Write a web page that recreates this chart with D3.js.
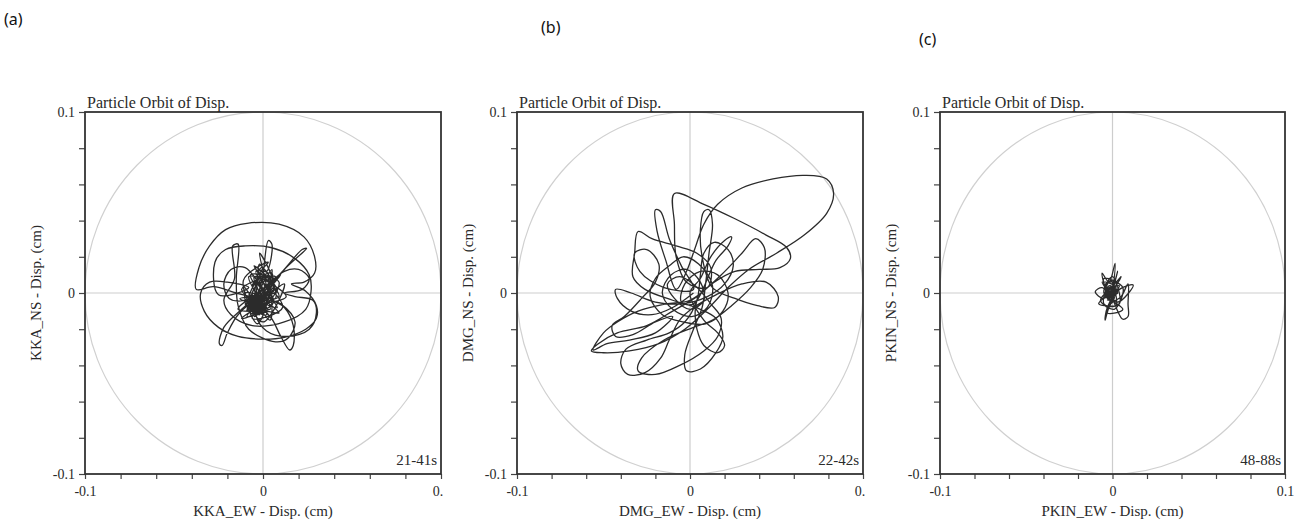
<!DOCTYPE html>
<html>
<head>
<meta charset="utf-8">
<script src="https://cdn.jsdelivr.net/npm/d3@7"></script>
<style>
  body { margin: 0; background: #fff; }
  svg { display: block; }
  .serif { font-family: "Liberation Serif", "Times New Roman", serif; fill: #2a2a2a; }
  .tag { font-family: "Noto Sans", "Open Sans", sans-serif; fill: #111; }
</style>
</head>
<body>
<svg id="chart" width="1306" height="526"></svg>
<script>
// Particle-motion orbits (EW vs NS displacement, cm) for three stations.

const axisDomain = [-0.1, 0.1];
const tickValues = [-0.1, -0.08, -0.06, -0.04, -0.02, 0, 0.02, 0.04, 0.06, 0.08, 0.1];
const labelledTicks = ["-0.1", "0", "0.1"];

const stations = ["KKA", "DMG", "PKIN"];
const timeWindows = ["21-41s", "22-42s", "48-88s"];
const panelTags = ["(a)", "(b)", "(c)"];
const chartTitle = "Particle Orbit of Disp.";

// KKA orbit, [EW, NS] in cm
const kkaOrbit = [
  [0.000,-0.005],[-0.004,-0.003],[-0.015,0.000],[-0.028,0.0035],
  [-0.0375,0.002],[-0.036,0.014],[-0.030,0.026],[-0.021,0.035],[-0.009,0.0385],[0.009,0.038],
  [0.023,0.031],[0.029,0.020],[0.029,0.011],[0.023,0.006],[0.016,0.005],[0.024,0.001],
  [0.030,-0.007],[0.030,-0.014],[0.024,-0.020],[0.012,-0.0245],[0.000,-0.0255],[-0.014,-0.024],
  [-0.025,-0.019],[-0.033,-0.010],[-0.035,0.000],[-0.030,0.006],[-0.020,0.006],[-0.008,0.003],
  [-0.025,-0.001],[-0.027,0.017],[-0.021,0.024],[-0.010,0.026],[0.005,0.025],[0.018,0.019],
  [0.026,0.010],[0.027,0.001],[0.024,-0.009],[0.012,-0.016],[-0.006,-0.018],[-0.018,-0.012],[-0.022,-0.004],
  [-0.016,0.008],[-0.017,0.026],[-0.014,0.027],[-0.015,0.008],[-0.014,-0.007],[-0.008,-0.020],
  [0.007,-0.027],[0.014,-0.025],[0.018,-0.016],[0.010,-0.006],[0.000,-0.002],
  [0.012,0.013],[0.0245,0.0247],[0.022,0.024],[0.010,0.011],[-0.002,0.000],
  [-0.012,-0.009],[-0.022,-0.019],[-0.0245,-0.028],[-0.023,-0.029],[-0.020,-0.022],[-0.014,-0.012],[-0.006,-0.006],
  [0.004,-0.013],[0.010,-0.024],[0.015,-0.0315],[0.017,-0.029],[0.017,-0.018],[0.012,-0.008],[0.004,-0.003],
  [-0.010,0.014],[-0.018,0.013],[-0.022,0.005],[-0.019,-0.003],[-0.010,-0.004],[0.002,0.004],
  [0.012,0.012],[0.020,0.013],[0.026,0.008],[0.022,0.002],[0.012,0.000],
  [0.018,-0.002],[0.028,-0.004],[0.030,-0.011],[0.026,-0.020],[0.014,-0.024],[0.002,-0.021],[-0.004,-0.012],
  [0.000,0.010],[0.003,0.029],[0.005,0.027],[0.002,0.012],[-0.002,0.016],[-0.003,0.008],
  [-0.003,-0.003],[0.006,0.004],[-0.008,0.009],[0.002,-0.012],[-0.010,-0.006],[0.009,-0.002],[-0.004,0.012],
  [0.004,-0.009],[-0.012,0.002],[0.007,0.009],[-0.006,-0.014],[0.011,-0.008],[-0.002,0.006],[-0.009,-0.010],
  [0.005,0.013],[-0.001,-0.005],[-0.013,-0.003],[0.008,0.001],[-0.005,0.015],[0.001,0.003],[-0.007,-0.008],
  [0.012,0.005],[0.000,-0.016],[-0.011,0.007],[0.003,0.017],[-0.002,0.010],[0.006,-0.005],[-0.009,-0.013],
  [0.010,0.010],[-0.004,-0.002],[-0.001,0.014],[0.004,0.007],[-0.014,-0.009],[0.002,-0.010],[0.009,-0.011],
  [-0.006,0.004],[0.005,0.011],[-0.003,-0.017],[-0.010,0.000],[0.007,-0.003],[0.001,0.012],[-0.008,-0.005],
  [0.013,-0.002],[-0.005,0.009],[0.000,-0.008],[-0.012,-0.014],[0.006,0.002],[-0.002,0.022],[0.003,-0.004],
  [-0.007,0.010],[0.009,0.006],[-0.004,-0.011],[-0.011,0.004],[0.004,-0.015],[0.002,0.009],[-0.006,-0.001],
  [0.008,-0.008],[-0.003,0.005],[0.001,-0.002],
  [-0.005,-0.006],[-0.001,-0.009],[-0.007,-0.002],[-0.002,-0.004],[-0.006,-0.010],[0.001,-0.006],[-0.008,-0.007],
  [-0.003,-0.012],[0.002,-0.003],[-0.009,-0.004],[-0.004,-0.008],[0.003,-0.010],[-0.007,-0.011],[-0.001,-0.001],
  [-0.005,-0.013],[0.000,-0.007],[-0.008,-0.001],[-0.003,-0.006],[-0.006,-0.004],[0.002,-0.008],[-0.004,-0.010],
  [-0.002,-0.002],[-0.007,-0.008],[-0.001,-0.011],[-0.005,-0.003],[0.001,-0.005],[-0.003,-0.009],[-0.006,-0.006],
  [0.000,-0.004],[-0.004,-0.007],[-0.002,-0.010],[-0.006,-0.008],[0.001,-0.008],[-0.005,-0.005],[-0.003,-0.011],
  [-0.008,-0.009],[-0.002,-0.006],[-0.004,-0.003],[0.000,-0.010],[-0.006,-0.012],[-0.003,-0.004],[-0.007,-0.006],
  [-0.001,-0.007],[-0.005,-0.009],[-0.002,-0.012],[-0.004,-0.005],[-0.008,-0.003],[-0.003,-0.008],[0.001,-0.009],
  [-0.005,-0.011],[-0.006,-0.003],[-0.002,-0.005],[-0.004,-0.009],[-0.001,-0.004]
];

// DMG orbit, [EW, NS] in cm
const dmgOrbit = [
  [0.002,0.000],[-0.010,-0.008],[-0.022,-0.012],[-0.034,-0.010],[-0.042,-0.003],[-0.043,0.002],[-0.034,0.000],
  [-0.020,-0.005],[-0.005,-0.006],[0.010,-0.002],[0.020,0.005],[0.025,0.015],[0.022,0.024],[0.014,0.028],
  [0.008,0.022],[0.006,0.010],[0.004,-0.004],[-0.003,-0.016],[-0.012,-0.022],
  [-0.025,-0.026],[-0.037,-0.031],[-0.040,-0.039],[-0.036,-0.045],[-0.026,-0.044],[-0.017,-0.036],
  [-0.012,-0.026],[-0.006,-0.015],[0.002,-0.008],
  [0.015,-0.001],[0.030,0.005],[0.044,0.006],[0.051,-0.002],[0.049,-0.008],[0.039,-0.007],[0.026,-0.003],[0.013,0.003],
  [0.007,0.020],[0.006,0.035],[0.008,0.045],[0.011,0.046],[0.013,0.038],[0.011,0.022],[0.009,0.005],[0.007,-0.008],
  [0.002,-0.020],[-0.003,-0.034],[-0.002,-0.043],[0.006,-0.042],[0.015,-0.033],[0.019,-0.024],[0.015,-0.014],[0.006,-0.009],
  [-0.010,-0.004],[-0.026,0.002],[-0.033,0.009],[-0.032,0.022],[-0.030,0.034],[-0.022,0.030],[-0.008,0.026],
  [0.004,0.022],[0.012,0.014],[0.010,0.003],
  [-0.002,0.006],[-0.008,0.020],[-0.009,0.038],[-0.009,0.055],[0.008,0.049],[0.026,0.041],[0.044,0.032],
  [0.056,0.025],[0.058,0.019],[0.052,0.014],[0.040,0.013],[0.026,0.012],[0.014,0.006],[0.004,-0.002],
  [-0.010,-0.010],[-0.025,-0.018],[-0.042,-0.022],[-0.053,-0.028],[-0.057,-0.032],[-0.050,-0.033],[-0.035,-0.032],
  [-0.018,-0.028],[-0.003,-0.020],[0.010,-0.009],[0.022,0.003],[0.034,0.013],[0.050,0.022],[0.066,0.032],
  [0.079,0.044],[0.083,0.055],[0.079,0.063],[0.066,0.065],[0.048,0.063],[0.030,0.058],[0.016,0.049],
  [0.008,0.038],[0.003,0.025],[-0.002,0.012],[-0.008,0.002],
  [-0.014,0.018],[-0.019,0.034],[-0.020,0.046],[-0.017,0.045],[-0.012,0.030],[-0.005,0.015],[0.002,0.002],
  [-0.015,0.003],[-0.029,0.012],[-0.032,0.022],[-0.025,0.024],[-0.018,0.016],[-0.020,0.006],[-0.028,-0.003],
  [-0.038,-0.013],[-0.045,-0.018],[-0.043,-0.024],[-0.033,-0.023],[-0.020,-0.016],[-0.010,-0.013],
  [-0.020,-0.022],[-0.035,-0.026],[-0.048,-0.028],[-0.056,-0.0315],[-0.050,-0.022],[-0.042,-0.016],
  [-0.030,-0.010],[-0.014,-0.006],[0.000,-0.004],
  [0.018,0.010],[0.030,0.022],[0.038,0.030],[0.043,0.025],[0.042,0.013],[0.035,0.003],[0.024,-0.007],
  [0.013,-0.015],[0.002,-0.019],
  [-0.015,-0.026],[-0.028,-0.036],[-0.030,-0.043],[-0.020,-0.045],[-0.006,-0.040],[0.008,-0.032],
  [0.016,-0.024],[0.018,-0.014],[0.012,-0.006],
  [0.003,0.004],[-0.006,0.009],[-0.013,0.005],[-0.009,-0.003],[0.000,-0.009],[0.008,-0.004],[0.006,0.006],
  [-0.002,0.013],[-0.011,0.010],[-0.016,0.000],[-0.010,-0.009],[0.001,-0.013],[0.010,-0.008],[0.013,0.004],
  [0.005,0.016],[-0.004,0.020],[-0.012,0.015],[-0.020,0.008],[-0.023,-0.002],[-0.016,-0.012],[-0.004,-0.016],
  [0.009,-0.017],[0.019,-0.010],[0.022,0.000],[0.016,0.010],[0.006,0.012],[-0.003,0.005],[-0.005,-0.005],[0.002,-0.006],
  [0.015,0.018],[0.022,0.026],[0.024,0.031],[0.020,0.029],[0.012,0.020],[0.006,0.008],[0.000,0.000],
  [0.008,-0.015],[0.016,-0.022],[0.020,-0.029],[0.016,-0.033],[0.008,-0.029],[0.004,-0.020],[0.003,-0.010],[0.005,0.000]
];

// PKIN orbit, [EW, NS] in cm
const pkinOrbit = [
  [0.000,0.000],[0.0015,0.0164],[-0.002,0.006],[-0.006,0.011],[-0.003,0.002],[0.005,0.009],[-0.005,-0.003],
  [-0.010,0.0007],[-0.006,0.003],[0.003,-0.005],[0.012,0.0044],[0.004,0.002],[-0.003,-0.008],[-0.0043,-0.015],
  [-0.001,-0.006],[0.005,-0.002],[0.009,0.005],[0.009,-0.006],[0.009,-0.013],[0.006,-0.0145],[0.003,-0.010],
  [0.000,-0.003],[-0.004,0.005],[0.002,0.006],[-0.007,-0.004],[0.001,-0.009],[0.006,0.003],[-0.005,0.008],
  [-0.002,-0.002],[0.003,0.012],[-0.001,0.001],[-0.008,-0.006],[0.004,-0.006],[0.000,0.009],[-0.005,0.000],
  [0.006,-0.009],[-0.003,-0.011],[0.002,0.003],[-0.006,0.006],[0.001,-0.004],[-0.004,-0.002],[0.003,0.000],
  [-0.002,0.004],[-0.005,-0.006],[0.002,-0.007],[-0.001,0.007],[-0.004,0.002],[0.004,0.004],[-0.003,-0.004],
  [0.001,0.002],[-0.002,-0.001],
  [-0.003,0.001],[0.000,-0.002],[-0.002,0.003],[-0.004,-0.001],[0.001,0.001],[-0.003,-0.003],[0.000,0.002],
  [-0.001,-0.004],[-0.004,0.003],[0.002,-0.001],[-0.002,-0.002],[-0.001,0.004],[0.001,-0.003],[-0.003,0.000],
  [0.000,0.003],[-0.002,-0.004],[-0.004,0.001],[0.001,0.000],[-0.001,-0.001],[-0.003,0.002],[0.002,0.002],
  [-0.002,0.000],[0.000,-0.001]
];

const orbits = [kkaOrbit, dmgOrbit, pkinOrbit];

// Page layout of the three panels
const layout = [
  { left: 85,  right: 441,  clipL: 0,   clipR: 444,  tagX: 4,   tagY: 25 },
  { left: 517, right: 863,  clipL: 445, clipR: 866,  tagX: 541, tagY: 33 },
  { left: 940, right: 1285, clipL: 867, clipR: 1306, tagX: 919, tagY: 45 }
];
const plotTop = 112, plotBottom = 474;

const svg = d3.select("#chart");
const defs = svg.append("defs");

const tickText = d => {
  if (Math.abs(d) < 1e-9) return labelledTicks[1];
  if (Math.abs(d + 0.1) < 1e-9) return labelledTicks[0];
  if (Math.abs(d - 0.1) < 1e-9) return labelledTicks[2];
  return "";
};

stations.forEach((st, i) => {
  const L = layout[i];

  // panel tag
  svg.append("text").attr("class", "tag")
    .attr("x", L.tagX).attr("y", L.tagY)
    .attr("font-size", 16).text(panelTags[i]);

  defs.append("clipPath").attr("id", "clip" + i)
    .append("rect").attr("x", L.clipL).attr("y", 0)
    .attr("width", L.clipR - L.clipL).attr("height", 526);

  const g = svg.append("g").attr("clip-path", `url(#clip${i})`);

  const x = d3.scaleLinear().domain(axisDomain).range([L.left, L.right]);
  const y = d3.scaleLinear().domain(axisDomain).range([plotBottom, plotTop]);

  // reference cross and circle of radius 0.1 cm
  g.append("line").attr("x1", x(0)).attr("x2", x(0)).attr("y1", y(0.1)).attr("y2", y(-0.1))
    .attr("stroke", "#cdcdcd").attr("stroke-width", 1.2);
  g.append("line").attr("x1", x(-0.1)).attr("x2", x(0.1)).attr("y1", y(0)).attr("y2", y(0))
    .attr("stroke", "#cdcdcd").attr("stroke-width", 1.2);
  g.append("ellipse").attr("cx", x(0)).attr("cy", y(0))
    .attr("rx", x(0.1) - x(0)).attr("ry", y(0) - y(0.1))
    .attr("fill", "none").attr("stroke", "#d0d0d0").attr("stroke-width", 1.2);

  // orbit trace
  const line = d3.line().x(d => x(d[0])).y(d => y(d[1])).curve(d3.curveCatmullRom.alpha(0.5));
  g.append("path").datum(orbits[i]).attr("d", line)
    .attr("fill", "none").attr("stroke", "#2b2b2b").attr("stroke-width", 1.3)
    .attr("stroke-linejoin", "round");

  // axes
  const xAxis = g.append("g").attr("transform", `translate(0,${plotBottom})`)
    .call(d3.axisBottom(x).tickValues(tickValues).tickSize(5).tickPadding(7).tickFormat(tickText));
  const yAxis = g.append("g").attr("transform", `translate(${L.left},0)`)
    .call(d3.axisLeft(y).tickValues(tickValues).tickSize(6).tickPadding(4).tickFormat(tickText));
  [xAxis, yAxis].forEach(a => {
    a.select(".domain").remove();
    a.selectAll(".tick line").attr("stroke", "#444").attr("stroke-width", 1.2);
    a.selectAll(".tick text").attr("class", "serif").attr("font-size", 14)
      .attr("fill", "#2a2a2a");
  });

  // frame
  g.append("rect").attr("x", L.left).attr("y", plotTop)
    .attr("width", L.right - L.left).attr("height", plotBottom - plotTop)
    .attr("fill", "none").attr("stroke", "#333").attr("stroke-width", 1.8);

  // title, window label, axis labels
  g.append("text").attr("class", "serif").attr("font-size", 16)
    .attr("x", L.left + 2).attr("y", 108).text(chartTitle);
  g.append("text").attr("class", "serif").attr("font-size", 15)
    .attr("text-anchor", "end").attr("x", L.right - 4).attr("y", 465).text(timeWindows[i]);
  g.append("text").attr("class", "serif").attr("font-size", 15)
    .attr("text-anchor", "middle").attr("x", x(0)).attr("y", 516)
    .text(`${st}_EW - Disp. (cm)`);
  g.append("text").attr("class", "serif").attr("font-size", 15)
    .attr("text-anchor", "middle")
    .attr("transform", `translate(${L.left - 44},${y(0)}) rotate(-90)`)
    .text(`${st}_NS - Disp. (cm)`);
});
</script>
</body>
</html>
